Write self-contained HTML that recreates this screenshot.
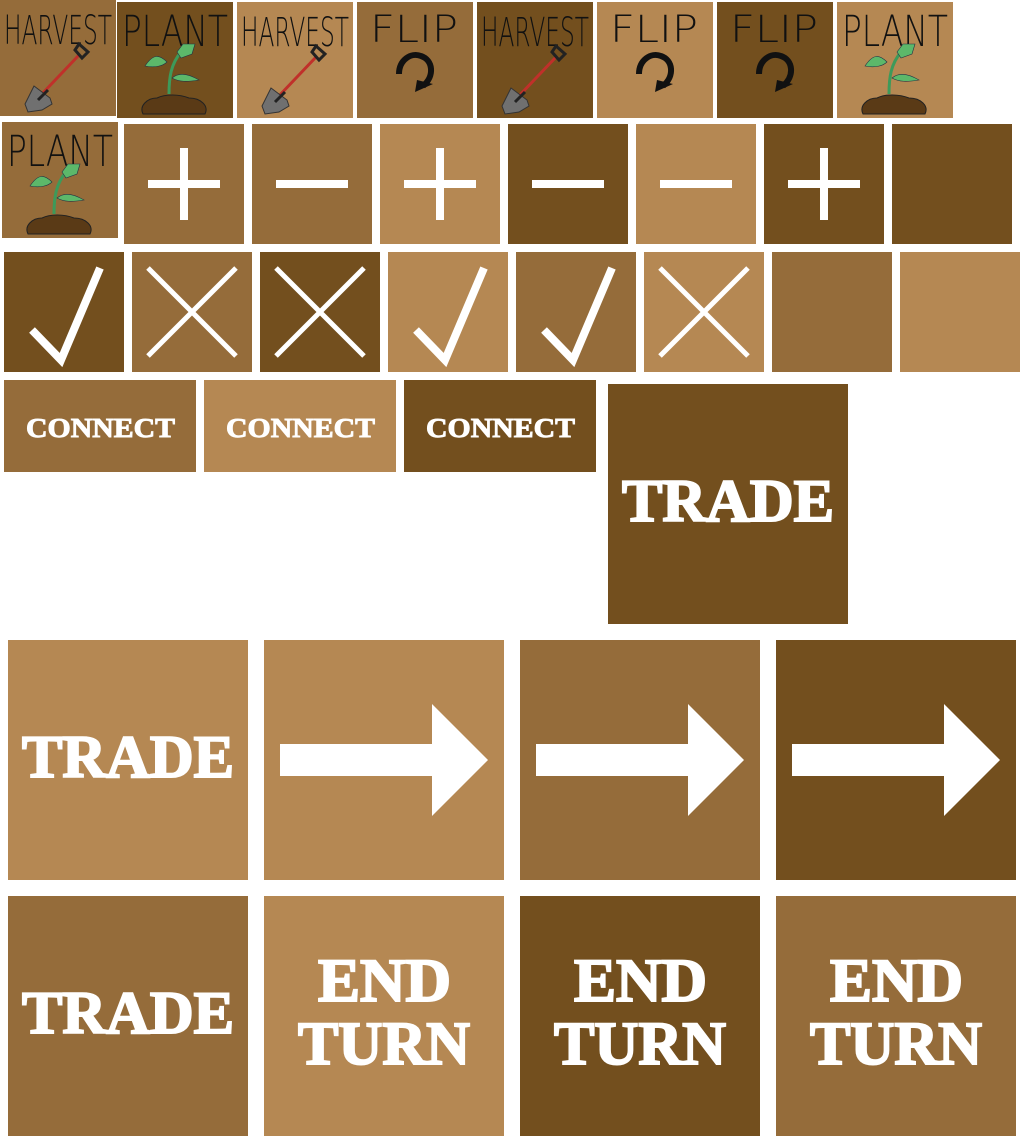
<!DOCTYPE html>
<html><head><meta charset="utf-8"><style>
html,body{margin:0;padding:0;background:#fff;width:1024px;height:1144px;overflow:hidden}
svg{display:block}
</style></head><body>
<svg id="s" width="1024" height="1144" viewBox="0 0 1024 1144" xmlns="http://www.w3.org/2000/svg"></svg>
<script>
const M='#956c3a', L='#b58853', D='#734f1e';
const NS='http://www.w3.org/2000/svg';
const svg=document.getElementById('s');
function mk(tag,attrs,parent){const e=document.createElementNS(NS,tag);for(const k in attrs)e.setAttribute(k,attrs[k]);(parent||svg).appendChild(e);return e;}
function tile(x,y,w,h,c,name){
  const g=mk('g',{transform:`translate(${x},${y})`});
  
  
  mk('rect',{x:0,y:0,width:w,height:h,fill:c},g);
  return g;
}
function hand(g,txt,x,y,len,size){
  const t=mk('text',{x:x,y:y,'font-family':'"DejaVu Sans","Liberation Sans",sans-serif','font-weight':'200','font-size':size,fill:'#111',textLength:len,lengthAdjust:'spacingAndGlyphs',transform:`translate(0,${y}) scale(1,1.25) translate(0,${-y})`},g);
  t.textContent=txt;
}
function harvest(g){
  hand(g,'HARVEST',4,44,108,32);
  mk('line',{x1:80,y1:54,x2:40,y2:96,stroke:'#c0302a','stroke-width':3},g);
  mk('path',{d:'M75 50 L79 44 L88 52 L82 58 Z',fill:'none',stroke:'#222','stroke-width':3},g);
  mk('path',{d:'M34 86 L50 98 L52 104 L42 110 L28 112 L25 104 Z',fill:'#707070',stroke:'#333','stroke-width':1},g);
  mk('line',{x1:48,y1:90,x2:38,y2:100,stroke:'#222','stroke-width':3},g);
}
function plant(g){
  hand(g,'PLANT',5,44,106,34);
  mk('path',{d:'M52 92 C52 75 54 62 64 50',fill:'none',stroke:'#3d9a5a','stroke-width':3},g);
  mk('path',{d:'M60 50 L66 42 L78 42 L75 52 L64 56 Z',fill:'#5cb86a',stroke:'#234','stroke-width':0.6},g);
  mk('path',{d:'M50 60 C42 52 36 52 28 64 C38 66 46 64 50 60 Z',fill:'#5cb86a',stroke:'#234','stroke-width':0.6},g);
  mk('path',{d:'M55 76 C62 70 72 72 82 78 C70 80 62 80 55 76 Z',fill:'#5cb86a',stroke:'#234','stroke-width':0.6},g);
  mk('path',{d:'M26 112 C22 104 30 96 40 96 C48 92 62 92 72 96 C84 96 92 104 88 112 Z',fill:'#5a3a16',stroke:'#222','stroke-width':1},g);
}
function flip(g){
  hand(g,'FLIP',13,40,88,30);
  mk('path',{d:'M42 72 C42 58 54 50 64 54 C76 58 78 74 66 84',fill:'none',stroke:'#111','stroke-width':6},g);
  mk('path',{d:'M60 78 L76 82 L58 90 Z',fill:'#111'},g);
}
function plus(g){mk('rect',{x:24,y:56,width:72,height:8,fill:'#fff'},g);mk('rect',{x:56,y:24,width:8,height:72,fill:'#fff'},g);}
function minus(g){mk('rect',{x:24,y:56,width:72,height:8,fill:'#fff'},g);}
function check(g){mk('path',{d:'M28 78 L57 108 L96 16',fill:'none',stroke:'#fff','stroke-width':8},g);}
function cross(g){mk('path',{d:'M16 16 L104 104 M104 16 L16 104',fill:'none',stroke:'#fff','stroke-width':5},g);}
function arrow(g){mk('path',{d:'M16 104 L168 104 L168 64 L224 120 L168 176 L168 136 L16 136 Z',fill:'#fff'},g);}
function txt(g,s,x,y,len,size){
  const t=mk('text',{x:x,y:y,'font-family':'"Liberation Serif","DejaVu Serif",serif','font-weight':'bold','font-size':size,fill:'#fff',stroke:'#fff','stroke-width':size/30,textLength:len,lengthAdjust:'spacingAndGlyphs'},g);
  t.textContent=s;
}
const r1=[[0,0,M,harvest,'harvest-button'],[117,2,D,plant,'plant-button'],[237,2,L,harvest,'harvest-button-light'],[357,2,M,flip,'flip-button'],[477,2,D,harvest,'harvest-button-dark'],[597,2,L,flip,'flip-button-light'],[717,2,D,flip,'flip-button-dark'],[837,2,L,plant,'plant-button-light']];
r1.forEach(r=>{const g=tile(r[0],r[1],116,116,r[2],r[4]);r[3](g);});
plant(tile(2,122,116,116,M,'plant-button-medium'));
const r2=[[M,plus,'plus-button'],[M,minus,'minus-button'],[L,plus,'plus-button-light'],[D,minus,'minus-button-dark'],[L,minus,'minus-button-light'],[D,plus,'plus-button-dark'],[D,null,'blank-tile-dark']];
r2.forEach((r,i)=>{const g=tile(124+128*i,124,120,120,r[0],r[2]);if(r[1])r[1](g);});
const r3=[[D,check,'confirm-button-dark'],[M,cross,'cancel-button'],[D,cross,'cancel-button-dark'],[L,check,'confirm-button-light'],[M,check,'confirm-button'],[L,cross,'cancel-button-light'],[M,null,'blank-tile'],[L,null,'blank-tile-light']];
r3.forEach((r,i)=>{const g=tile(4+128*i,252,120,120,r[0],r[2]);if(r[1])r[1](g);});
[[4,M,'connect-button'],[204,L,'connect-button-light'],[404,D,'connect-button-dark']].forEach(r=>{const g=tile(r[0],380,192,92,r[1],r[2]);txt(g,'CONNECT',22,57,149,27);});
txt(tile(608,384,240,240,D,'trade-button-dark'),'TRADE',14,137,212,60);
txt(tile(8,640,240,240,L,'trade-button-light'),'TRADE',14,137,212,60);
[[264,L,'next-arrow-button-light'],[520,M,'next-arrow-button'],[776,D,'next-arrow-button-dark']].forEach(r=>arrow(tile(r[0],640,240,240,r[1],r[2])));
txt(tile(8,896,240,240,M,'trade-button'),'TRADE',14,137,212,60);
[[264,L,'end-turn-button-light'],[520,D,'end-turn-button-dark'],[776,M,'end-turn-button']].forEach(r=>{const g=tile(r[0],896,240,240,r[1],r[2]);txt(g,'END',54,105,133,61);txt(g,'TURN',34,168,172,61);});
</script>
</body></html>
